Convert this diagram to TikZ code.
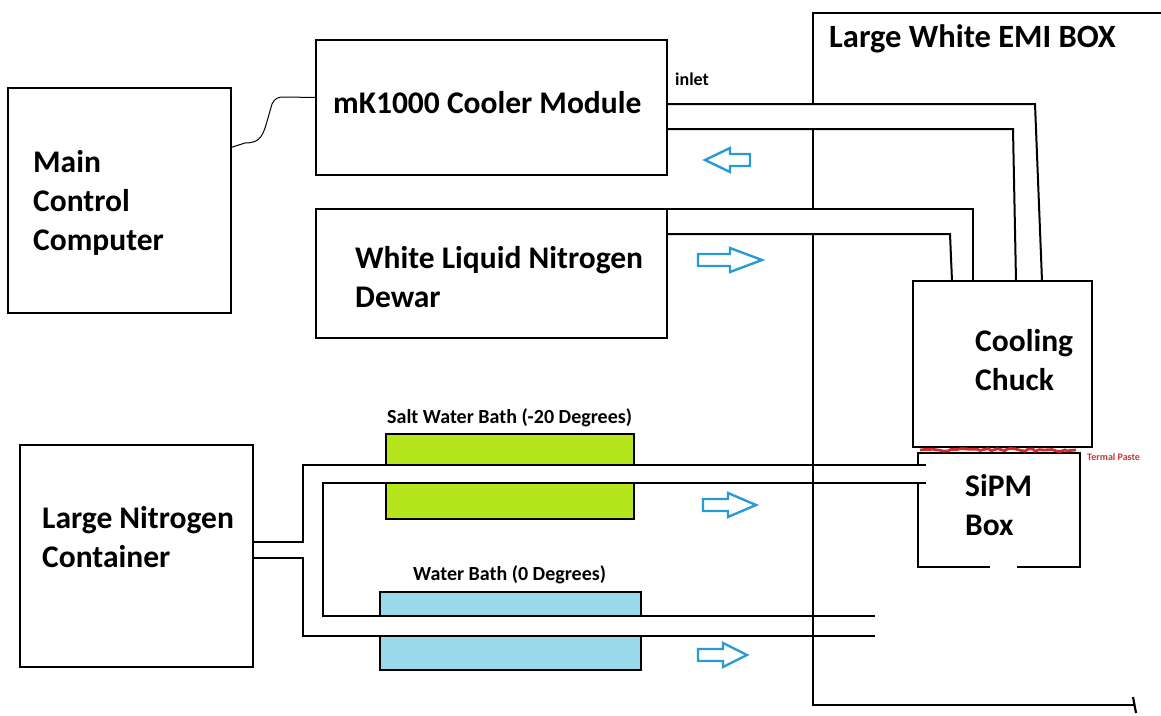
\documentclass[tikz,border=0pt]{standalone}
\usepackage{fontspec}
\setmainfont{Carlito}
\usetikzlibrary{positioning,decorations.pathmorphing}
\definecolor{SaltGreen}{HTML}{B5E61D}
\definecolor{WaterBlue}{HTML}{99D9EA}
\definecolor{FlowBlue}{HTML}{2B9AD3}
\definecolor{PasteRed}{HTML}{D42A2A}
\definecolor{PasteText}{HTML}{C0393B}

\tikzset{
  box/.style={draw=black, line width=2.2pt, outer sep=0pt, inner sep=0pt},
  bath/.style={box, line width=2pt},
  lbl/.style={font=\fontsize{31.5}{39}\selectfont\bfseries, inner sep=0pt, align=left},
  small/.style={font=\fontsize{20}{24}\selectfont\bfseries, inner sep=0pt},
  pipe/.style={line width=2pt, line join=miter},
  wall/.style={line width=2.2pt},
  cable/.style={line width=1pt},
  paste/.style={draw=PasteRed, line width=2.8pt,
    decorate, decoration={random steps, segment length=4pt, amplitude=1.5pt}},
  flowline/.style={draw=FlowBlue, line width=2.4pt, line join=miter},
  pics/flow/.style 2 args={code={
    \draw[flowline] (0,-6) -- (#1,-6) -- (#1,-12) -- (#1+#2,0)
      -- (#1,12) -- (#1,6) -- (0,6) -- cycle;}}
}

\begin{document}
\begin{tikzpicture}[x=1pt, y=-1pt]
  \useasboundingbox (0,0) rectangle (1161,715);

  % boxes
  \node[box, minimum width=223pt, minimum height=225pt] (computer) at (119.5,200.5) {};
  \node[box, minimum width=351pt, minimum height=135pt] (cooler) at (491.5,107.5) {};
  \node[box, minimum width=351pt, minimum height=129pt] (dewar) at (491.5,273.5) {};
  \node[box, minimum width=233pt, minimum height=222pt] (container) at (136.5,556) {};
  \node[box, minimum width=179pt, minimum height=166pt] (chuck) at (1002.5,364) {};
  \node[outer sep=0pt, minimum width=162pt, minimum height=114pt] (sipm) at (999,510) {};
  \node[bath, fill=SaltGreen, minimum width=248pt, minimum height=85pt] (saltbath) at (510,476.5) {};
  \node[bath, fill=WaterBlue, minimum width=261pt, minimum height=78pt] (waterbath) at (510.5,631) {};

  % labels (base = last line)
  \node[lbl, anchor=base west] (computertext) at (33,250) {Main\\Control\\Computer};
  \node[lbl, anchor=base west] (coolertext) at (333,113) {mK1000 Cooler Module};
  \node[lbl, anchor=base west] (dewartext) at (355,307) {White Liquid Nitrogen\\Dewar};
  \node[lbl, anchor=base west] (containertext) at (42,567) {Large Nitrogen\\Container};
  \node[lbl, anchor=base west] (chucktext) at (975,390) {Cooling\\Chuck};
  \node[lbl, anchor=base west] (sipmtext) at (965,535) {SiPM\\Box};
  \node[lbl, anchor=base west, font=\fontsize{32.5}{39}\selectfont\bfseries] (emitext) at (829,47) {Large White EMI BOX};
  \node[small, anchor=base west, font=\fontsize{18}{22}\selectfont\bfseries] (inlet) at (675,85) {inlet};
  \node[small, anchor=base west] (salttext) at (387,423) {Salt Water Bath (-20 Degrees)};
  \node[small, anchor=base west] (watertext) at (413,580) {Water Bath (0 Degrees)};
  \node[anchor=base west, inner sep=0pt, text=PasteText,
        font=\fontsize{10}{12}\selectfont\bfseries] (pastetext) at (1087,460) {Termal Paste};

  % EMI box wall
  \draw[wall] (1161,13) -- (813,13) -- (813,104);
  \draw[wall] (813,129) -- (813,209);
  \draw[wall] (813,234) -- (813,705) -- (1135,705);
  \draw[wall] (1133,697) -- (1136,713);

  % cable
  \draw[cable] ([yshift=53pt]computer.east) -- (245,143)
    .. controls (258,143) and (262,138) .. (266,125) -- (272,104)
    .. controls (275,98) and (278,97) .. (284,97) -- ([yshift=10pt]cooler.west);

  % cooler and dewar lines to the chuck
  \draw[pipe] ([yshift=3.5pt]cooler.east) -- (1035,104) -- ([xshift=129pt]chuck.north west);
  \draw[pipe] ([yshift=-21.5pt]cooler.east) -- (1013,129) -- ([xshift=103pt]chuck.north west);
  \draw[pipe] (dewar.north east) -- (973,209) -- ([xshift=60pt]chuck.north west);
  \draw[pipe] ([yshift=-25pt]dewar.north east) -- (950,234) -- ([xshift=39pt]chuck.north west);

  % nitrogen lines through the baths
  \fill[white] ([xshift=-1.5pt]saltbath.west |- 0,465) rectangle ([xshift=1.5pt]saltbath.east |- 0,483);
  \fill[white] ([xshift=-1.5pt]waterbath.west |- 0,616) rectangle ([xshift=1.5pt]waterbath.east |- 0,636);
  \draw[pipe] ([yshift=14pt]container.east) -- (303,542) -- (303,465)
    -- ([xshift=8pt,yshift=45pt]sipm.west);
  \draw[pipe] ([xshift=8pt,yshift=27pt]sipm.west) -- (323,483) -- (323,616) -- (875,616);
  \draw[pipe] ([yshift=-2pt]container.east) -- (303,558) -- (303,636) -- (875,636);

  % SiPM box outline
  \draw[box] ([yshift=-12pt]sipm.north west) -- (sipm.north west) -- (sipm.north east)
    -- (sipm.south east) -- ([xshift=-63pt]sipm.south east);
  \draw[box] ([xshift=72pt]sipm.south west) -- (sipm.south west)
    -- ([yshift=84pt]sipm.south west);

  % thermal paste
  \draw[paste] (920,450) -- (1076,450);

  % flow arrows
  \pic[xscale=-1] at (750,160) {flow={20}{25}};
  \pic at (698,260) {flow={32}{32}};
  \pic at (703,505) {flow={25}{28}};
  \pic at (698,655) {flow={25}{24}};
\end{tikzpicture}
\end{document}
